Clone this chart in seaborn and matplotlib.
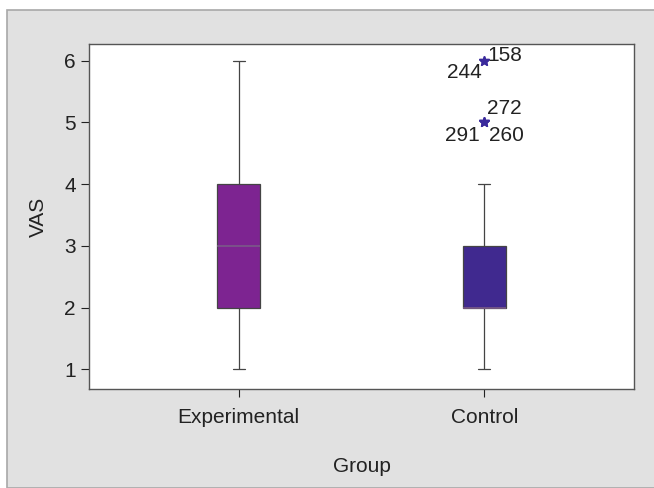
import numpy as np
import pandas as pd
import seaborn as sns
import matplotlib.pyplot as plt
from matplotlib.patches import Rectangle

# VAS score levels and patient counts per level
vas_levels = [1, 2, 3, 4, 5, 6]
experimental_counts = [10, 35, 40, 45, 10, 5]
control_counts = [10, 70, 40, 20, 3, 2]
groups = ["Experimental", "Control"]
box_colors = ["#7d2491", "#40298f"]

# case numbers printed next to the outliers (group, value, label, dx, dy, ha)
outlier_labels = [
    ("Control", 6, "158", 2, 3.5, "left"),
    ("Control", 6, "244", -2, -8.5, "right"),
    ("Control", 5, "272", 2, 10, "left"),
    ("Control", 5, "291", -3.5, -9.5, "right"),
    ("Control", 5, "260", 3.5, -9.5, "left"),
]

df = pd.DataFrame({
    "Group": ["Experimental"] * sum(experimental_counts) + ["Control"] * sum(control_counts),
    "VAS": np.concatenate([np.repeat(vas_levels, experimental_counts),
                           np.repeat(vas_levels, control_counts)]),
})

sns.set_style("ticks")
plt.rcParams["font.family"] = ["Liberation Sans", "DejaVu Sans"]

fig = plt.figure(figsize=(6.54, 4.88), dpi=100, facecolor="white")
# grey panel behind the plot
fig.patches.append(Rectangle((7 / 654, 0), 1, 1 - 10 / 488, transform=fig.transFigure,
                             facecolor="#e1e1e1", edgecolor="#a8a8a8", linewidth=1.2,
                             zorder=-5))
ax = fig.add_axes([89 / 654, 1 - 389 / 488, 545 / 654, 345 / 488])
ax.set_facecolor("white")

sns.boxplot(data=df, x="Group", y="VAS", hue="Group", order=groups, hue_order=groups,
            palette=box_colors, width=0.175, whis=1.5, saturation=1, legend=False,
            linecolor="#444444", linewidth=0.9, ax=ax,
            medianprops={"color": "#7a5a88", "linewidth": 1.2},
            flierprops={"marker": "*", "markersize": 7.5, "markerfacecolor": "#3a2a9c",
                        "markeredgecolor": "#3a2a9c"})

# shorter whisker caps
for line in ax.get_lines():
    x = line.get_xdata()
    y = line.get_ydata()
    if len(x) == 2 and y[0] == y[1] and line.get_marker() != "*":
        w = abs(x[1] - x[0])
        if 0.05 < w < 0.1:
            mid = (x[0] + x[1]) / 2
            line.set_xdata([mid - 0.025, mid + 0.025])

for grp, val, label, dx, dy, ha in outlier_labels:
    ax.annotate(label, (groups.index(grp), val), xytext=(dx, dy), textcoords="offset points",
                ha=ha, va="center", fontsize=15, color="#222222")

ax.set_xlim(-0.61, 1.61)
ax.set_ylim(0.68, 6.27)
ax.set_yticks(vas_levels)
ax.set_xlabel("Group", fontsize=15, color="#222222", labelpad=21)
ax.set_ylabel("VAS", fontsize=15, color="#222222", labelpad=12)
ax.tick_params(labelsize=15, colors="#222222", length=6, width=0.8)
ax.tick_params(axis="x", pad=8)
for s in ax.spines.values():
    s.set_visible(True)
    s.set_color("#555555")
    s.set_linewidth(1.0)

fig.savefig("out.png", dpi=100, facecolor=fig.get_facecolor())
